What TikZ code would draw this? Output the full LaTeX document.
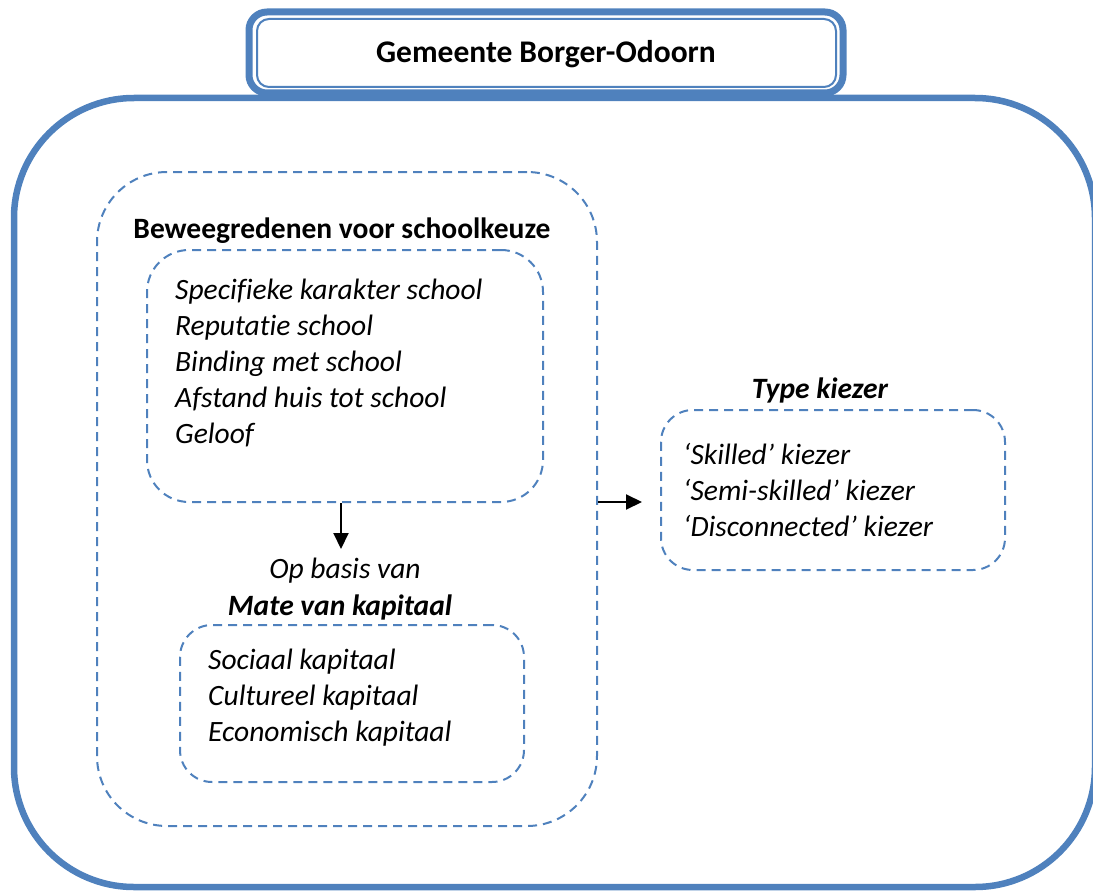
\documentclass[tikz,border=0pt]{standalone}
\usepackage{fontspec}
\setmainfont{Carlito}[Ligatures={NoCommon}]
\usetikzlibrary{arrows.meta}
\definecolor{obl}{RGB}{79,129,189}
\tikzset{
  dbox/.style={draw=obl, line width=2pt, dash pattern=on 9pt off 6pt, rounded corners=#1, inner sep=0pt},
  itm/.style={font=\fontsize{29.5}{34}\selectfont\itshape, anchor=base west, inner sep=0pt},
  hdr/.style={font=\fontsize{29.5}{34}\selectfont\bfseries, anchor=base, inner sep=0pt},
  arr/.style={line width=2pt, -{Triangle[length=16pt,width=15pt]}}
}
\begin{document}
\begin{tikzpicture}[x=1pt,y=-1pt]
\useasboundingbox (0,0) rectangle (1093,891);
% big outer box
\draw[obl, line width=6.5pt, rounded corners=120] (14,98) rectangle (1095,887);
% title box
\draw[obl, line width=7pt, fill=white, rounded corners=18] (249,12) rectangle (843,93);
\draw[obl, line width=2pt, rounded corners=12] (257,19) rectangle (836,87);
\node[font=\fontsize{31.5}{36}\selectfont\bfseries, anchor=base, inner sep=0pt] (title) at (546,63) {Gemeente Borger-Odoorn};
% dashed boxes
\node[dbox=70, minimum width=500pt, minimum height=654pt] (outer) at (347,499) {};
\node[dbox=42, minimum width=396pt, minimum height=252pt] (box1) at (345,376) {};
\node[dbox=32, minimum width=344pt, minimum height=157pt] (box2) at (352,703.5) {};
\node[dbox=32, minimum width=344pt, minimum height=160pt] (box3) at (833,490) {};
% headers
\node[hdr] (h1) at (342,238) {Beweegredenen voor schoolkeuze};
\node[font=\fontsize{29.5}{34}\selectfont\itshape, anchor=base, inner sep=0pt] (opb) at (345,578) {Op basis van};
\node[hdr, font=\fontsize{29.5}{34}\selectfont\bfseries\itshape] (h2) at (340,615) {Mate van kapitaal};
\node[hdr, font=\fontsize{29.5}{34}\selectfont\bfseries\itshape] (h3) at (820,398) {Type kiezer};
% list 1
\node[itm] (a1) at (175,299) {Specifieke karakter school};
\node[itm] (a2) at (175,335) {Reputatie school};
\node[itm] (a3) at (175,371) {Binding met school};
\node[itm] (a4) at (175,407) {Afstand huis tot school};
\node[itm] (a5) at (175,443) {Geloof};
% list 2
\node[itm] (b1) at (208,669) {Sociaal kapitaal};
\node[itm] (b2) at (208,705) {Cultureel kapitaal};
\node[itm] (b3) at (208,741) {Economisch kapitaal};
% list 3
\node[itm] (c1) at (683,464) {‘Skilled’ kiezer};
\node[itm] (c2) at (683,500) {‘Semi-skilled’ kiezer};
\node[itm] (c3) at (683,536) {‘Disconnected’ kiezer};
% arrows
\coordinate (downend) at (341,549);
\coordinate (rightend) at (642,502);
\draw[arr] (box1.south -| downend) -- (downend);
\draw[arr] (outer.east |- rightend) -- (rightend);
\end{tikzpicture}
\end{document}
